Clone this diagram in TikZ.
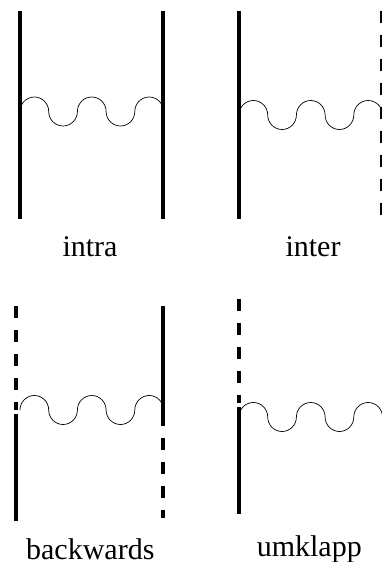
\documentclass[tikz,border=0pt]{standalone}
\usepackage{fontspec}
\setmainfont{Liberation Serif}
\tikzset{
  solidline/.style={line width=4pt,black},
  dashline/.style={line width=4pt,black,dash pattern=on 12pt off 12pt},
  wave/.style={line width=0.7pt,black},
  lbl/.style={anchor=base,inner sep=0pt,font=\fontsize{30}{36}\selectfont},
}
\newcommand{\wavepath}[2]{%
  \draw[wave] (#1,#2) arc[start angle=180,end angle=0,x radius=14.35pt,y radius=14.5pt]
    arc[start angle=180,end angle=360,x radius=14.35pt,y radius=14.5pt]
    arc[start angle=180,end angle=0,x radius=14.35pt,y radius=14.5pt]
    arc[start angle=180,end angle=360,x radius=14.35pt,y radius=14.5pt]
    arc[start angle=180,end angle=0,x radius=14.35pt,y radius=14.5pt];}
\begin{document}
\begin{tikzpicture}[x=1pt,y=-1pt]
\useasboundingbox[fill=white] (0,0) rectangle (382,562);
\clip (0,0) rectangle (382,562);
% intra
\draw[solidline] (19.5,11) -- (19.5,219);
\draw[solidline] (163.2,11) -- (163.2,219);
\wavepath{20}{111.5}
\node[lbl] (intra) at (90,256) {intra};
% inter
\draw[solidline] (238.7,11) -- (238.7,219);
\draw[dashline] (381.6,11) -- (381.6,216);
\wavepath{239}{115}
\node[lbl] (inter) at (313,256) {inter};
% backwards
\draw[dashline] (15.7,306) -- (15.7,410);
\draw[solidline] (15.7,414) -- (15.7,521);
\draw[solidline] (163.2,306) -- (163.2,426);
\draw[dashline] (163.2,438) -- (163.2,518);
\wavepath{20}{410}
\node[lbl] (backwards) at (90.3,559.6) {backwards};
% umklapp
\draw[dashline] (238.7,299) -- (238.7,403);
\draw[solidline] (238.7,407) -- (238.7,514);
\wavepath{239}{417}
\node[lbl] (umklapp) at (309.3,556) {umklapp};
\end{tikzpicture}
\end{document}
